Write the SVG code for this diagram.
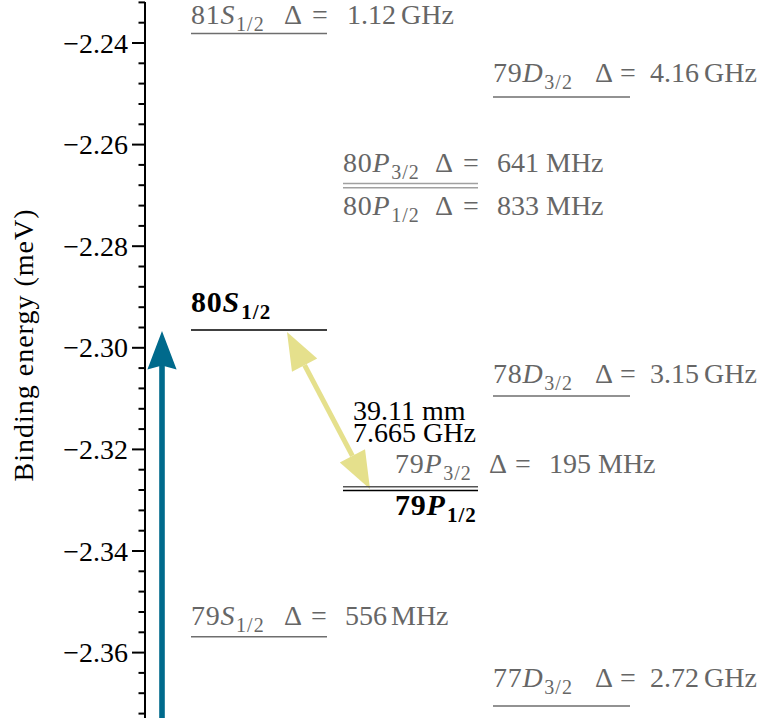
<svg xmlns="http://www.w3.org/2000/svg" width="771" height="724" viewBox="0 0 771 724">
<style>
text{font-family:"Liberation Serif","Times New Roman",serif;font-size:28px}
.g{fill:#666}
.k{fill:#000}
.b{font-weight:bold;font-size:30px}
.it{font-style:italic}
.pre{letter-spacing:0.8px}
.sub{font-size:20px;letter-spacing:1px}
.b .sub{font-size:21px}
.lg{stroke:#6e6e6e;stroke-width:1.5;fill:none}
.lp{stroke:#a0a0a0;stroke-width:1.5;fill:none}
.lk{stroke:#000;stroke-width:1.6;fill:none}
.ax{stroke:#000;stroke-width:2;fill:none}
.tl{font-size:28px;text-anchor:end}
</style>
<rect width="771" height="724" fill="#fff"/>
<g id="axis">
<line class="ax" x1="145" y1="2" x2="145" y2="718"/>
<g id="major-ticks" class="ax">
<line x1="132" y1="43" x2="145" y2="43"/>
<line x1="132" y1="144.6" x2="145" y2="144.6"/>
<line x1="132" y1="246.2" x2="145" y2="246.2"/>
<line x1="132" y1="347.8" x2="145" y2="347.8"/>
<line x1="132" y1="449.4" x2="145" y2="449.4"/>
<line x1="132" y1="551" x2="145" y2="551"/>
<line x1="132" y1="652.6" x2="145" y2="652.6"/>
</g>
<g id="minor-ticks" class="ax">
<line x1="138.5" y1="2.4" x2="145" y2="2.4"/>
<line x1="138.5" y1="22.7" x2="145" y2="22.7"/>
<line x1="138.5" y1="63.3" x2="145" y2="63.3"/>
<line x1="138.5" y1="83.6" x2="145" y2="83.6"/>
<line x1="138.5" y1="104" x2="145" y2="104"/>
<line x1="138.5" y1="124.3" x2="145" y2="124.3"/>
<line x1="138.5" y1="164.9" x2="145" y2="164.9"/>
<line x1="138.5" y1="185.2" x2="145" y2="185.2"/>
<line x1="138.5" y1="205.6" x2="145" y2="205.6"/>
<line x1="138.5" y1="225.9" x2="145" y2="225.9"/>
<line x1="138.5" y1="266.5" x2="145" y2="266.5"/>
<line x1="138.5" y1="286.8" x2="145" y2="286.8"/>
<line x1="138.5" y1="307.2" x2="145" y2="307.2"/>
<line x1="138.5" y1="327.5" x2="145" y2="327.5"/>
<line x1="138.5" y1="368.1" x2="145" y2="368.1"/>
<line x1="138.5" y1="388.4" x2="145" y2="388.4"/>
<line x1="138.5" y1="408.8" x2="145" y2="408.8"/>
<line x1="138.5" y1="429.1" x2="145" y2="429.1"/>
<line x1="138.5" y1="469.7" x2="145" y2="469.7"/>
<line x1="138.5" y1="490" x2="145" y2="490"/>
<line x1="138.5" y1="510.4" x2="145" y2="510.4"/>
<line x1="138.5" y1="530.7" x2="145" y2="530.7"/>
<line x1="138.5" y1="571.3" x2="145" y2="571.3"/>
<line x1="138.5" y1="591.6" x2="145" y2="591.6"/>
<line x1="138.5" y1="612" x2="145" y2="612"/>
<line x1="138.5" y1="632.3" x2="145" y2="632.3"/>
<line x1="138.5" y1="672.9" x2="145" y2="672.9"/>
<line x1="138.5" y1="693.2" x2="145" y2="693.2"/>
<line x1="138.5" y1="713.6" x2="145" y2="713.6"/>
</g>
<g id="tick-labels" class="k">
<text class="tl" x="128" y="52.5">−2.24</text>
<text class="tl" x="128" y="154">−2.26</text>
<text class="tl" x="128" y="255.7">−2.28</text>
<text class="tl" x="128" y="357.3">−2.30</text>
<text class="tl" x="128" y="458.9">−2.32</text>
<text class="tl" x="128" y="560.5">−2.34</text>
<text class="tl" x="128" y="662.1">−2.36</text>
</g>
<text class="k" font-size="28" transform="translate(33,345.5) rotate(-90)" text-anchor="middle" textLength="272" lengthAdjust="spacing">Binding energy (meV)</text>
</g>
<g id="connectors">
<g id="excitation-arrow" fill="#006a8c">
<rect x="159.2" y="364" width="5.6" height="354"/>
<polygon points="162,331 176.6,369.5 162,365.5 147.4,369.5"/>
</g>
<g id="transition-arrow" fill="#e5e08c">
<line x1="304.6" y1="365.2" x2="352.4" y2="455.8" stroke="#e5e08c" stroke-width="5"/>
<polygon points="287,332 317.2,358.6 292,371.8"/>
<polygon points="370,489 365,449.2 339.8,462.4"/>
</g>
</g>
<g id="level-81S12">
<line class="lg" x1="191" y1="33.5" x2="327" y2="33.5"/>
<text class="g" y="23.5"><tspan class="pre" x="191">81</tspan><tspan class="it">S</tspan><tspan class="sub" dx="1.5" dy="7">1/2</tspan><tspan x="284" dy="-7">Δ</tspan><tspan x="312">=</tspan><tspan x="347">1.12</tspan><tspan x="401">GHz</tspan></text>
</g>
<g id="level-79D32">
<line class="lg" x1="493" y1="97" x2="630" y2="97"/>
<text class="g" y="82"><tspan class="pre" x="493">79</tspan><tspan class="it">D</tspan><tspan class="sub" dx="1.5" dy="7">3/2</tspan><tspan x="595" dy="-7">Δ</tspan><tspan x="620">=</tspan><tspan x="650">4.16</tspan><tspan x="704">GHz</tspan></text>
</g>
<g id="level-80P32">
<line class="lp" x1="343" y1="183.5" x2="478" y2="183.5"/>
<text class="g" y="171.5"><tspan class="pre" x="343">80</tspan><tspan class="it">P</tspan><tspan class="sub" dx="1.5" dy="7">3/2</tspan><tspan x="435" dy="-7">Δ</tspan><tspan x="463">=</tspan><tspan x="497">641</tspan><tspan x="546">MHz</tspan></text>
</g>
<g id="level-80P12">
<line class="lp" x1="343" y1="187.7" x2="478" y2="187.7"/>
<text class="g" y="215"><tspan class="pre" x="343">80</tspan><tspan class="it">P</tspan><tspan class="sub" dx="1.5" dy="7">1/2</tspan><tspan x="435" dy="-7">Δ</tspan><tspan x="463">=</tspan><tspan x="497">833</tspan><tspan x="546">MHz</tspan></text>
</g>
<g id="level-80S12">
<line class="lk" x1="191" y1="330" x2="327" y2="330"/>
<text class="k b" y="311.5"><tspan class="pre" x="191">80</tspan><tspan class="it">S</tspan><tspan class="sub" dx="2" dy="7">1/2</tspan></text>
</g>
<g id="level-78D32">
<line class="lg" x1="493" y1="396" x2="630" y2="396"/>
<text class="g" y="383"><tspan class="pre" x="493">78</tspan><tspan class="it">D</tspan><tspan class="sub" dx="1.5" dy="7">3/2</tspan><tspan x="595" dy="-7">Δ</tspan><tspan x="620">=</tspan><tspan x="650">3.15</tspan><tspan x="704">GHz</tspan></text>
</g>
<g id="transition-label">
<text class="k" font-size="24"><tspan x="353" y="420">39.11 mm</tspan><tspan x="353" y="441.7">7.665 GHz</tspan></text>
</g>
<g id="level-79P32">
<line stroke="#555" stroke-width="1.5" x1="343" y1="486.8" x2="478" y2="486.8"/>
<text class="g" y="473"><tspan class="pre" x="395">79</tspan><tspan class="it">P</tspan><tspan class="sub" dx="1.5" dy="7">3/2</tspan><tspan x="489" dy="-7">Δ</tspan><tspan x="515">=</tspan><tspan x="549">195</tspan><tspan x="598">MHz</tspan></text>
</g>
<g id="level-79P12">
<line class="lk" x1="343" y1="490.5" x2="478" y2="490.5"/>
<text class="k b" y="515"><tspan class="pre" x="395">79</tspan><tspan class="it">P</tspan><tspan class="sub" dx="2" dy="7">1/2</tspan></text>
</g>
<g id="level-79S12">
<line class="lg" x1="191" y1="636.7" x2="327" y2="636.7"/>
<text class="g" y="625"><tspan class="pre" x="191">79</tspan><tspan class="it">S</tspan><tspan class="sub" dx="1.5" dy="7">1/2</tspan><tspan x="284" dy="-7">Δ</tspan><tspan x="311">=</tspan><tspan x="345">556</tspan><tspan x="391">MHz</tspan></text>
</g>
<g id="level-77D32">
<line class="lg" x1="493" y1="706" x2="630" y2="706"/>
<text class="g" y="687"><tspan class="pre" x="493">77</tspan><tspan class="it">D</tspan><tspan class="sub" dx="1.5" dy="7">3/2</tspan><tspan x="595" dy="-7">Δ</tspan><tspan x="620">=</tspan><tspan x="650">2.72</tspan><tspan x="704">GHz</tspan></text>
</g>
</svg>
